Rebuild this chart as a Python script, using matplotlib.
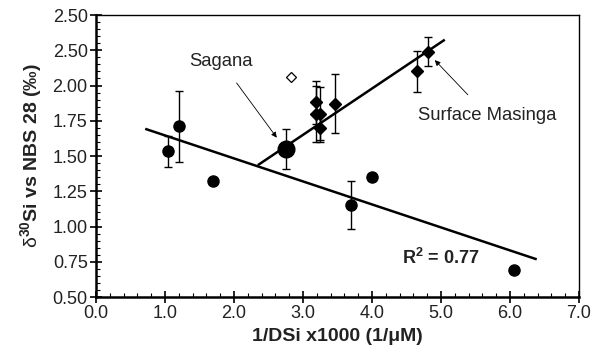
import matplotlib
matplotlib.use("Agg")
import matplotlib.pyplot as plt
from matplotlib.ticker import MultipleLocator, FixedLocator

plt.rcParams['font.family'] = ['Liberation Sans', 'DejaVu Sans']
plt.rcParams['mathtext.fontset'] = 'custom'
plt.rcParams['mathtext.rm'] = 'Liberation Sans'
plt.rcParams['mathtext.it'] = 'Liberation Sans:italic'
plt.rcParams['mathtext.bf'] = 'Liberation Sans:bold'

# Filled circles (river / lake samples)
circ_x = [1.04, 1.20, 1.70, 3.70, 4.00, 6.06]
circ_y = [1.535, 1.71, 1.32, 1.155, 1.35, 0.69]
circ_err = [0.11, 0.25, 0.02, 0.17, 0.0, 0.0]

# Sagana (large circle)
sag_x = [2.75]
sag_y = [1.55]
sag_err = [0.145]

# Filled diamonds (Masinga)
dia_x = [3.19, 3.19, 3.25, 3.24, 3.46, 4.65, 4.81]
dia_y = [1.88, 1.80, 1.80, 1.70, 1.87, 2.10, 2.24]
dia_err = [0.15, 0.20, 0.19, 0.10, 0.21, 0.145, 0.105]

# Open diamond
open_x = [2.83]
open_y = [2.06]

# Regression lines (endpoints)
fit1_x = [0.73, 6.37]
fit1_y = [1.69, 0.77]
fit2_x = [2.36, 5.04]
fit2_y = [1.44, 2.32]

ytick_vals = [0.50, 0.75, 1.00, 1.25, 1.50, 1.75, 2.00, 2.25, 2.50]
ytick_labels = ['0.50', '0.75', '1.00', '1.25', '1.50', '1.75', '2.00', '2.50', '2.50']
xtick_vals = [0, 1, 2, 3, 4, 5, 6, 7]
xtick_labels = ['0.0', '1.0', '2.0', '3.0', '4.0', '5.0', '6.0', '7.0']

fig = plt.figure(figsize=(5.93, 3.59), dpi=100)
ax = fig.add_axes([0.1619, 0.1727, 0.8145, 0.7855])

ax.plot(fit1_x, fit1_y, color='black', lw=1.8, zorder=2)
ax.plot(fit2_x, fit2_y, color='black', lw=1.8, zorder=2)

ax.errorbar(circ_x, circ_y, yerr=circ_err, fmt='o', color='black', ms=8,
            ecolor='black', elinewidth=1, capsize=3, capthick=1, zorder=3)
ax.errorbar(sag_x, sag_y, yerr=sag_err, fmt='o', color='black', ms=12,
            ecolor='black', elinewidth=1, capsize=3, capthick=1, zorder=3)
ax.errorbar(dia_x, dia_y, yerr=dia_err, fmt='D', color='black', ms=6.5,
            ecolor='black', elinewidth=1, capsize=3, capthick=1, zorder=3)
ax.plot(open_x, open_y, 'D', mfc='white', mec='black', ms=5.5, mew=0.9, zorder=3)

ax.annotate('Sagana', xy=(2.62, 1.63), xytext=(1.81, 2.17),
            ha='center', va='center', fontsize=13.3, color='#222222',
            arrowprops=dict(arrowstyle='-|>', color='black', lw=0.6,
                            mutation_scale=8, shrinkA=9, shrinkB=0))
ax.annotate('Surface Masinga', xy=(4.91, 2.18), xytext=(5.67, 1.79),
            ha='center', va='center', fontsize=13.3, color='#222222',
            arrowprops=dict(arrowstyle='-|>', color='black', lw=0.6,
                            mutation_scale=8, shrinkA=9, shrinkB=0))
ax.text(4.99, 0.775, r'$\mathbf{R^2}$ = 0.77', ha='center', va='center',
        fontsize=13, fontweight='bold', color='#222222')

ax.set_xlim(0, 7)
ax.set_ylim(0.5, 2.5)
ax.xaxis.set_major_locator(FixedLocator(xtick_vals))
ax.set_xticklabels(xtick_labels)
ax.yaxis.set_major_locator(FixedLocator(ytick_vals))
ax.set_yticklabels(ytick_labels)
ax.xaxis.set_minor_locator(MultipleLocator(0.2))
ax.yaxis.set_minor_locator(MultipleLocator(0.05))

ax.tick_params(which='major', direction='inout', length=8, width=1.2,
               labelsize=13, pad=2, labelcolor='#222222')
ax.tick_params(which='minor', direction='in', length=3, width=0.8)
ax.tick_params(top=False, right=False, which='both')

for s in ['left', 'bottom']:
    ax.spines[s].set_linewidth(1.8)
for s in ['top', 'right']:
    ax.spines[s].set_linewidth(1.0)

ax.set_xlabel('1/DSi x1000 (1/\u03bcM)', fontsize=14, fontweight='bold',
              labelpad=4, color='#222222')
ax.set_ylabel('$\\mathrm{\u03b4}^{\\mathbf{30}}$Si vs NBS 28 (\u2030)', fontsize=14,
              fontweight='bold', labelpad=6, color='#222222')

fig.savefig('out.png', dpi=100)
